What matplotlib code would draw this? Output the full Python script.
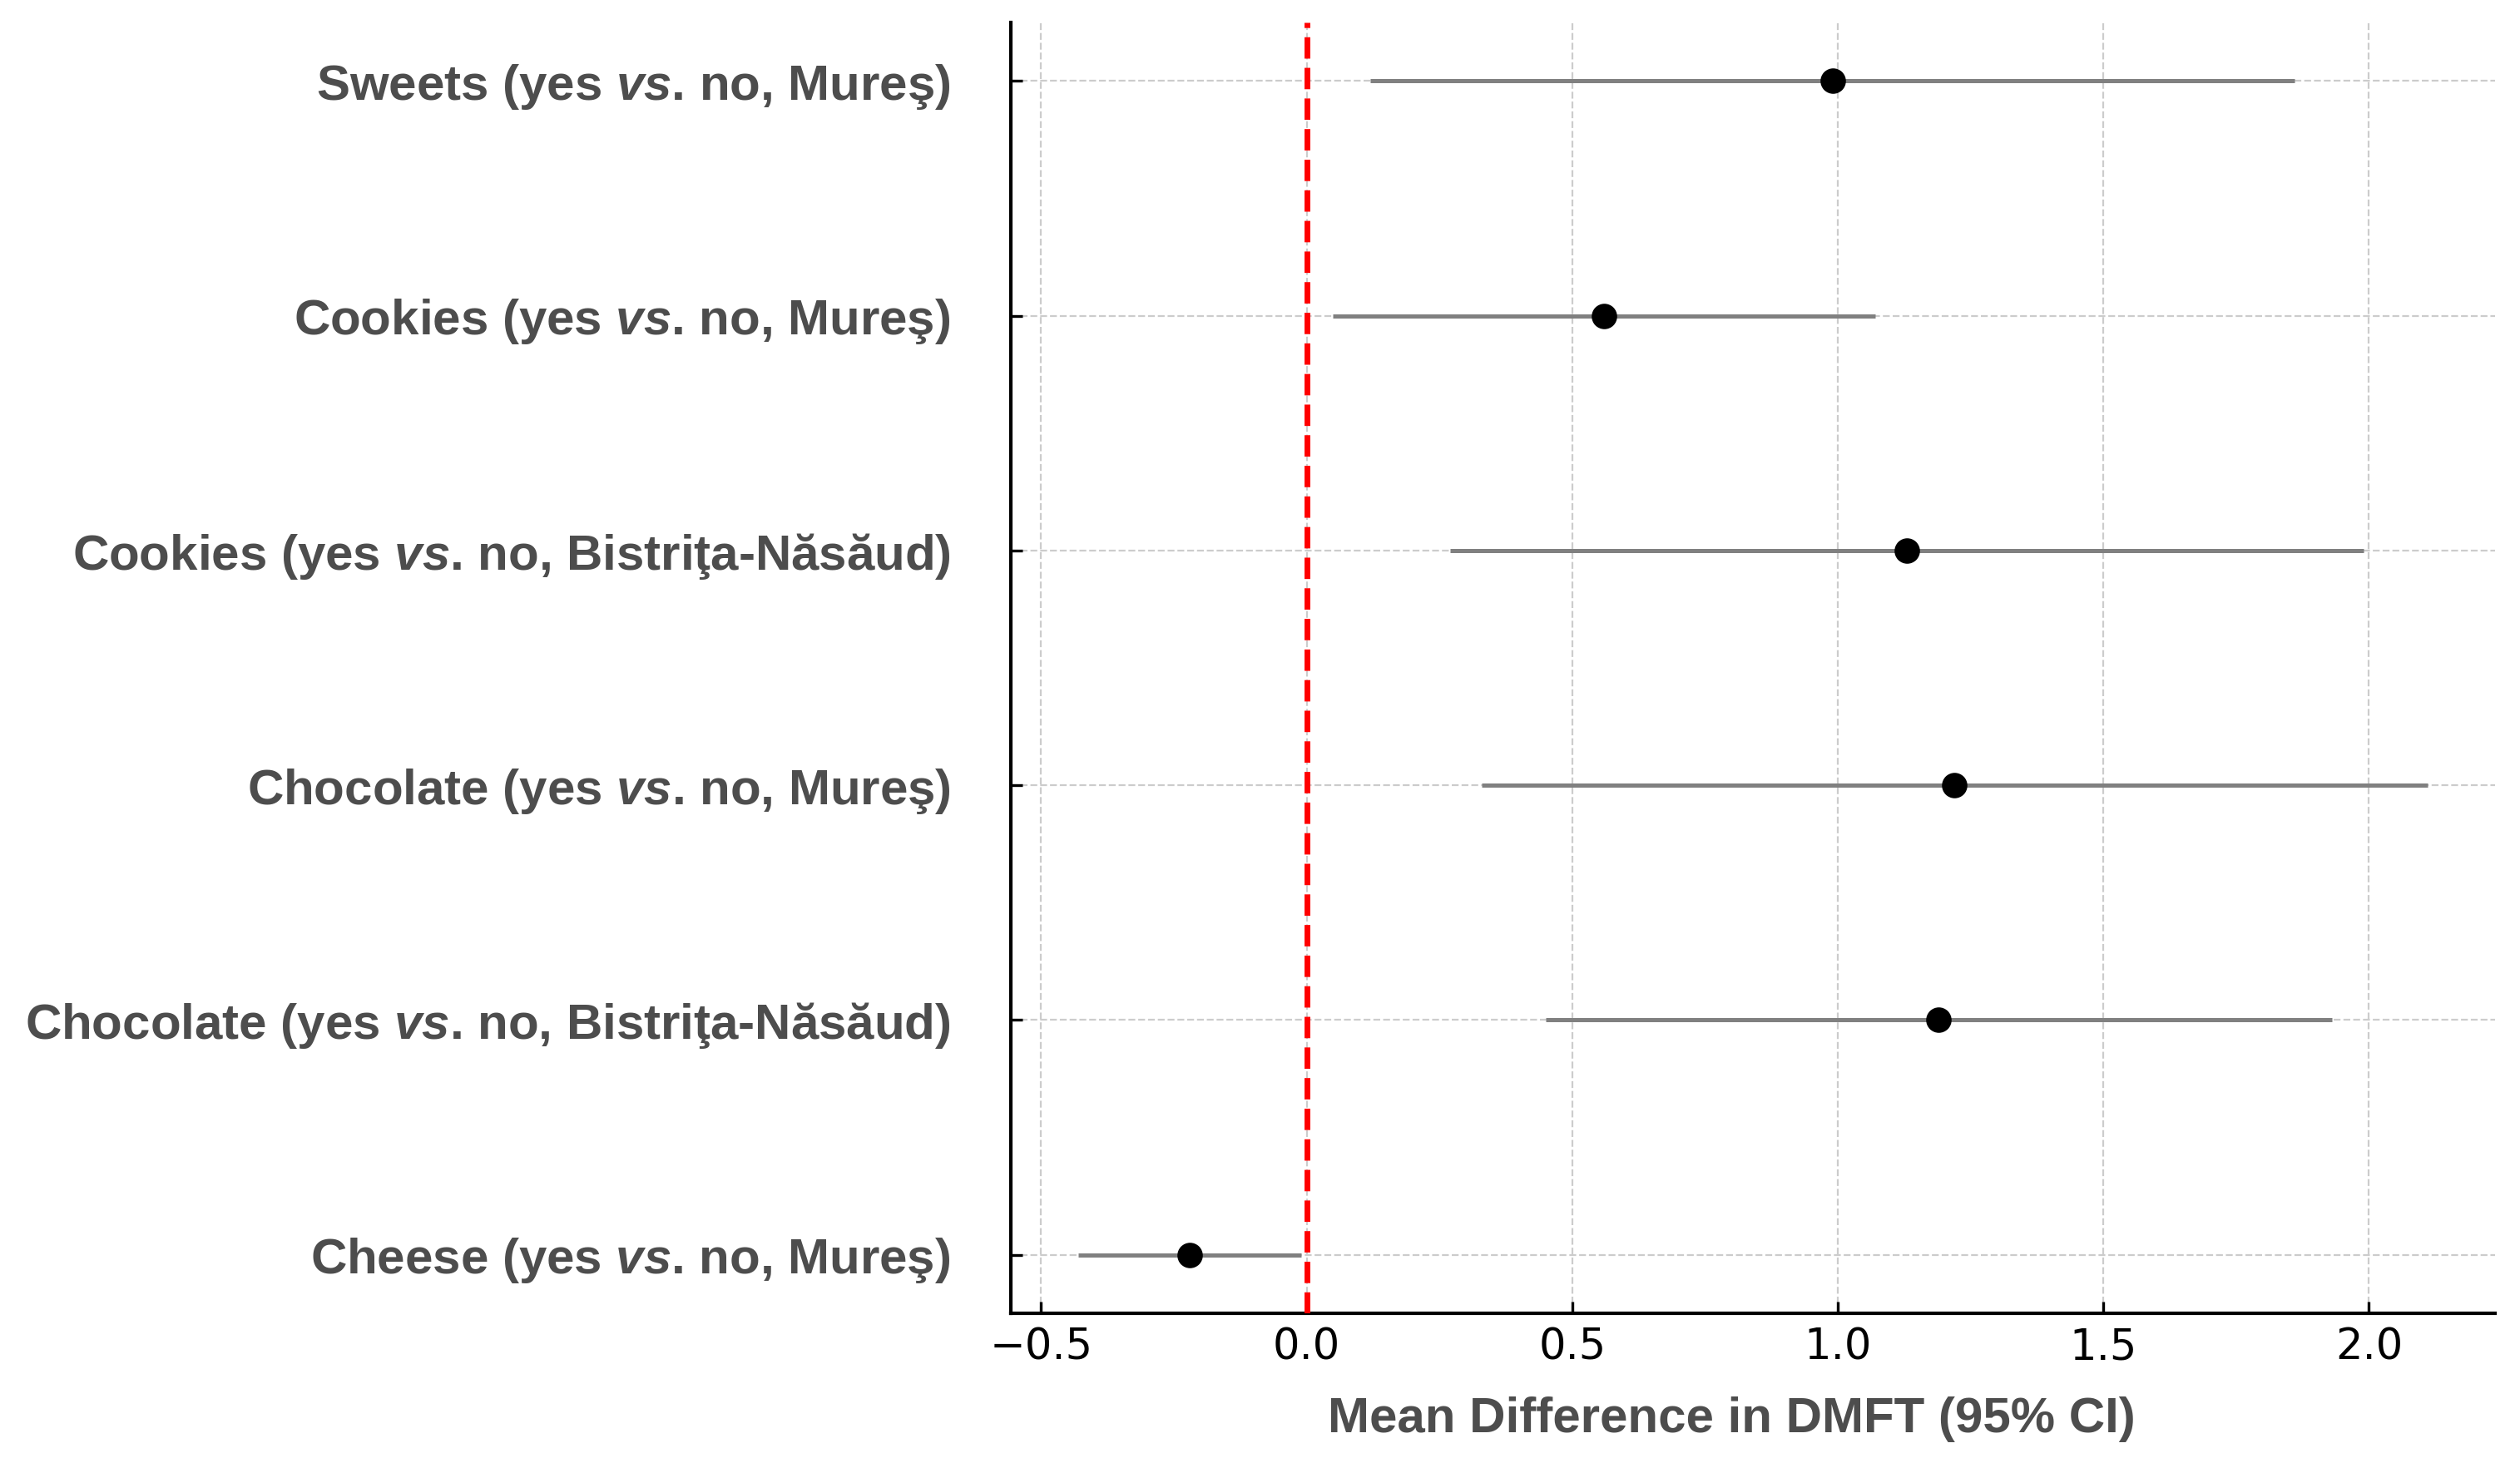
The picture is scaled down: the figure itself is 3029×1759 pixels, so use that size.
import numpy as np
import matplotlib.pyplot as plt

# Forest plot data (top to bottom)
labels = [
    r"Sweets (yes $\mathit{vs}$. no, Mureş)",
    r"Cookies (yes $\mathit{vs}$. no, Mureş)",
    r"Cookies (yes $\mathit{vs}$. no, Bistriţa-Năsăud)",
    r"Chocolate (yes $\mathit{vs}$. no, Mureş)",
    r"Chocolate (yes $\mathit{vs}$. no, Bistriţa-Năsăud)",
    r"Cheese (yes $\mathit{vs}$. no, Mureş)",
]
mean_diff = [0.99, 0.56, 1.13, 1.22, 1.19, -0.22]
ci_low = [0.12, 0.05, 0.27, 0.33, 0.45, -0.43]
ci_high = [1.86, 1.07, 1.99, 2.11, 1.93, -0.01]
xticks = [-0.5, 0.0, 0.5, 1.0, 1.5, 2.0]

plt.rcParams['mathtext.fontset'] = 'custom'
plt.rcParams['mathtext.rm'] = 'Liberation Sans:bold'
plt.rcParams['mathtext.it'] = 'Liberation Sans:italic:bold'

label_color = '#4d4d4d'

fig = plt.figure(figsize=(15.145, 8.795), dpi=200)
ax = fig.add_axes([0.4011, 0.1023, 0.99 - 0.4011, 0.9847 - 0.1023])

y = np.arange(len(labels))[::-1]

ax.hlines(y, ci_low, ci_high, color='#808080', lw=1.8, zorder=2)
ax.plot(mean_diff, y, 'o', color='black', ms=10, zorder=3)
ax.axvline(0, color='red', ls='--', lw=2.5, zorder=4)

ax.set_yticks(y)
ax.set_yticklabels(labels, fontsize=21.6, fontweight='bold', color=label_color,
                   family='Liberation Sans')
ax.set_xticks(xticks)
ax.tick_params(axis='x', direction='in', length=5, width=1.2, pad=6, labelsize=18.4,
               labelcolor='black')
ax.tick_params(axis='y', direction='in', length=5, width=1.2, pad=26)

ax.set_xlabel("Mean Difference in DMFT (95% CI)", fontsize=21.6, fontweight='bold',
              color=label_color, family='Liberation Sans', labelpad=12)
ax.xaxis.label.set_x(0.486)

ax.grid(True, ls='--', color='#cccccc', lw=0.8, zorder=0)
ax.set_axisbelow(True)

for side in ['top', 'right']:
    ax.spines[side].set_visible(False)
for side in ['left', 'bottom']:
    ax.spines[side].set_linewidth(1.5)
    ax.spines[side].set_color('black')

fig.savefig('out.png', dpi=200)
